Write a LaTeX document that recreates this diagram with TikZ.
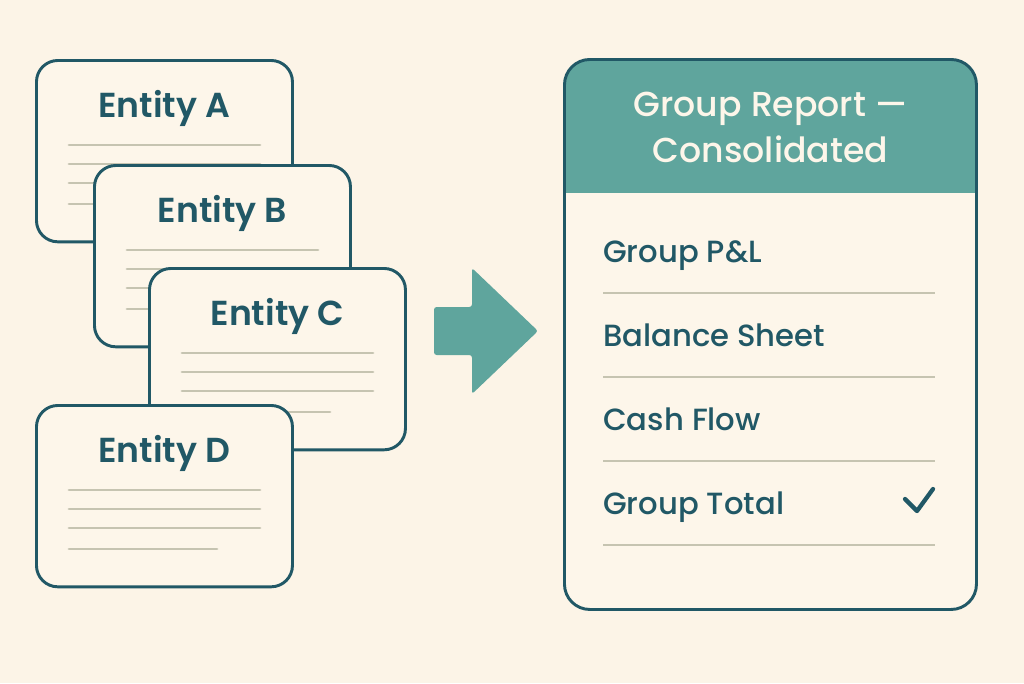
\documentclass[tikz,border=0pt]{standalone}
\usepackage{fontspec}
\setmainfont{Poppins}[UprightFont=* Medium, BoldFont=* SemiBold]
\usetikzlibrary{calc}
\definecolor{creamBg}{HTML}{FCF4E7}
\definecolor{cardBg}{HTML}{FDF6EA}
\definecolor{tealDark}{HTML}{215866}
\definecolor{tealHead}{HTML}{5FA59D}
\definecolor{lineGray}{HTML}{C6C4B1}
\tikzset{
  card/.style={draw=tealDark, fill=cardBg, line width=2.2pt, rounded corners=16pt,
    minimum width=192pt, minimum height=136pt, anchor=north west, inner sep=0pt},
  cardtitle/.style={anchor=base, inner sep=0pt, text=tealDark,
    font=\fontsize{26}{30}\selectfont\bfseries},
  textline/.style={draw=lineGray, line width=2.1pt, line cap=round},
  panel/.style={draw=tealDark, fill=cardBg, line width=2.2pt, rounded corners=19pt,
    minimum width=309pt, minimum height=412.5pt, anchor=north west, inner sep=0pt,
    path picture={\fill[tealHead, sharp corners] (path picture bounding box.north west)
      rectangle ([yshift=-100.5pt]path picture bounding box.north east);}},
  headtext/.style={align=center, text=cardBg, inner sep=0pt,
    font=\fontsize{26}{34.5}\selectfont},
  rowtext/.style={anchor=base west, inner sep=0pt, text=tealDark,
    font=\fontsize{23}{28}\selectfont},
  sepline/.style={draw=lineGray, line width=1.9pt},
  checkmark/.style={draw=tealDark, line width=3.2pt, line cap=round, line join=round}
}
\begin{document}
\begin{tikzpicture}[x=0.75pt,y=-0.75pt]
  \fill[creamBg] (0,0) rectangle (1024,683);
  \useasboundingbox (0,0) rectangle (1024,683);
  % entity cards, stacked
  \foreach \name/\x/\y in {A/35/59, B/93/164, C/148/267, D/35/404}{
    \node[card] (card\name) at (\x,\y) {};
    \node[cardtitle] (title\name) at ($(card\name.north)+(0,58)$) {Entity \name};
    \foreach \dy/\len in {86/191, 105/191, 124/191, 145/148}
      \draw[textline] ($(card\name.north west)+(34,\dy)$) -- ++(\len,0);
  }
  % arrow
  \fill[tealHead, rounded corners=2pt] (434,307) -- (472,307) -- (472,268) -- (538,331)
    -- (472,394) -- (472,355) -- (434,355) -- cycle;
  % consolidated report
  \node[panel] (report) at (563,58) {};
  \node[headtext] (reportTitle) at ($(report.north)+(0,69)$) {Group Report —\\Consolidated};
  \foreach \i/\lbl in {1/Group P\&L, 2/Balance Sheet, 3/Cash Flow, 4/Group Total}{
    \node[rowtext] (row\i) at (603,{178+84*\i}) {\lbl};
    \draw[sepline] (603,{209+84*\i}) -- (935,{209+84*\i});
  }
  \draw[checkmark] (905,499) -- (917,511) -- (933,489);
\end{tikzpicture}
\end{document}
